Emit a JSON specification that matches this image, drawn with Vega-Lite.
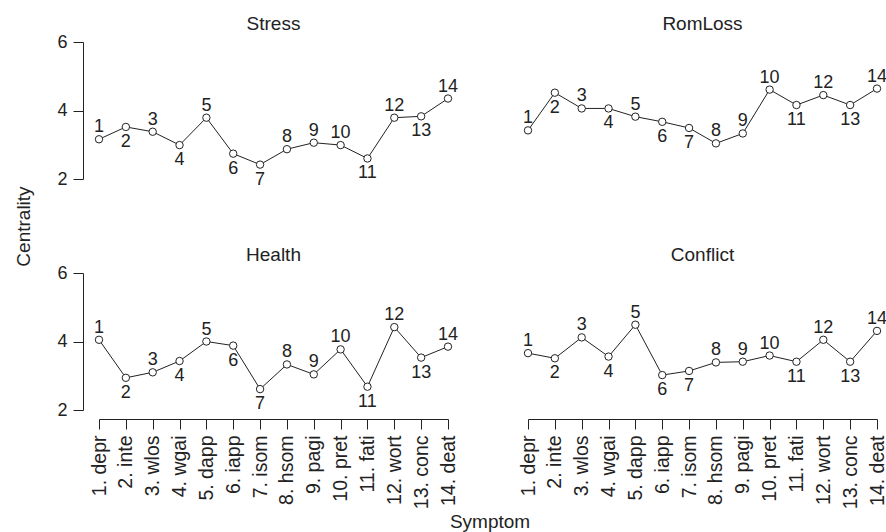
{
  "$schema": "https://vega.github.io/schema/vega-lite/v6.json",
  "background": "white",
  "padding": {"left": 14, "top": 15, "right": 0, "bottom": 2},
  "title": {"text": "Centrality", "orient": "left", "anchor": "middle", "font": "Liberation Sans", "fontSize": 19, "fontWeight": "normal", "color": "#222", "offset": 23, "dx": 47},
  "data": {"values": [
    {"panel":"Stress","num":1,"symptom":"1. depr","value":3.16},
    {"panel":"Stress","num":2,"symptom":"2. inte","value":3.52},
    {"panel":"Stress","num":3,"symptom":"3. wlos","value":3.38},
    {"panel":"Stress","num":4,"symptom":"4. wgai","value":2.99},
    {"panel":"Stress","num":5,"symptom":"5. dapp","value":3.79},
    {"panel":"Stress","num":6,"symptom":"6. iapp","value":2.74},
    {"panel":"Stress","num":7,"symptom":"7. isom","value":2.42},
    {"panel":"Stress","num":8,"symptom":"8. hsom","value":2.87},
    {"panel":"Stress","num":9,"symptom":"9. pagi","value":3.06},
    {"panel":"Stress","num":10,"symptom":"10. pret","value":2.99},
    {"panel":"Stress","num":11,"symptom":"11. fati","value":2.6},
    {"panel":"Stress","num":12,"symptom":"12. wort","value":3.79},
    {"panel":"Stress","num":13,"symptom":"13. conc","value":3.83},
    {"panel":"Stress","num":14,"symptom":"14. deat","value":4.35},
    {"panel":"RomLoss","num":1,"symptom":"1. depr","value":3.42},
    {"panel":"RomLoss","num":2,"symptom":"2. inte","value":4.52},
    {"panel":"RomLoss","num":3,"symptom":"3. wlos","value":4.06},
    {"panel":"RomLoss","num":4,"symptom":"4. wgai","value":4.06},
    {"panel":"RomLoss","num":5,"symptom":"5. dapp","value":3.82},
    {"panel":"RomLoss","num":6,"symptom":"6. iapp","value":3.67},
    {"panel":"RomLoss","num":7,"symptom":"7. isom","value":3.49},
    {"panel":"RomLoss","num":8,"symptom":"8. hsom","value":3.04},
    {"panel":"RomLoss","num":9,"symptom":"9. pagi","value":3.33},
    {"panel":"RomLoss","num":10,"symptom":"10. pret","value":4.61},
    {"panel":"RomLoss","num":11,"symptom":"11. fati","value":4.16},
    {"panel":"RomLoss","num":12,"symptom":"12. wort","value":4.45},
    {"panel":"RomLoss","num":13,"symptom":"13. conc","value":4.16},
    {"panel":"RomLoss","num":14,"symptom":"14. deat","value":4.64},
    {"panel":"Health","num":1,"symptom":"1. depr","value":4.05},
    {"panel":"Health","num":2,"symptom":"2. inte","value":2.94},
    {"panel":"Health","num":3,"symptom":"3. wlos","value":3.1},
    {"panel":"Health","num":4,"symptom":"4. wgai","value":3.43},
    {"panel":"Health","num":5,"symptom":"5. dapp","value":4.0},
    {"panel":"Health","num":6,"symptom":"6. iapp","value":3.88},
    {"panel":"Health","num":7,"symptom":"7. isom","value":2.61},
    {"panel":"Health","num":8,"symptom":"8. hsom","value":3.33},
    {"panel":"Health","num":9,"symptom":"9. pagi","value":3.04},
    {"panel":"Health","num":10,"symptom":"10. pret","value":3.77},
    {"panel":"Health","num":11,"symptom":"11. fati","value":2.68},
    {"panel":"Health","num":12,"symptom":"12. wort","value":4.42},
    {"panel":"Health","num":13,"symptom":"13. conc","value":3.53},
    {"panel":"Health","num":14,"symptom":"14. deat","value":3.85},
    {"panel":"Conflict","num":1,"symptom":"1. depr","value":3.66},
    {"panel":"Conflict","num":2,"symptom":"2. inte","value":3.51},
    {"panel":"Conflict","num":3,"symptom":"3. wlos","value":4.12},
    {"panel":"Conflict","num":4,"symptom":"4. wgai","value":3.56},
    {"panel":"Conflict","num":5,"symptom":"5. dapp","value":4.49},
    {"panel":"Conflict","num":6,"symptom":"6. iapp","value":3.02},
    {"panel":"Conflict","num":7,"symptom":"7. isom","value":3.14},
    {"panel":"Conflict","num":8,"symptom":"8. hsom","value":3.39},
    {"panel":"Conflict","num":9,"symptom":"9. pagi","value":3.41},
    {"panel":"Conflict","num":10,"symptom":"10. pret","value":3.59},
    {"panel":"Conflict","num":11,"symptom":"11. fati","value":3.41},
    {"panel":"Conflict","num":12,"symptom":"12. wort","value":4.05},
    {"panel":"Conflict","num":13,"symptom":"13. conc","value":3.41},
    {"panel":"Conflict","num":14,"symptom":"14. deat","value":4.31}
  ]},
  "facet": {
    "field": "panel", "type": "nominal",
    "sort": ["Stress", "RomLoss", "Health", "Conflict"],
    "header": {
      "title": "Symptom", "titleOrient": "bottom", "titleFont": "Liberation Sans", "titleFontSize": 19, "titleFontWeight": "normal", "titleColor": "#222", "titlePadding": 4,
      "labelFont": "Liberation Sans", "labelFontSize": 19, "labelColor": "#222", "labelPadding": 8
    }
  },
  "columns": 2,
  "spacing": {"column": 63, "row": 57},
  "resolve": {"scale": {"x": "shared", "y": "shared"}},
  "spec": {
    "width": 349,
    "height": 137,
    "encoding": {
      "x": {
        "field": "symptom", "type": "ordinal",
        "sort": ["1. depr","2. inte","3. wlos","4. wgai","5. dapp","6. iapp","7. isom","8. hsom","9. pagi","10. pret","11. fati","12. wort","13. conc","14. deat"],
        "scale": {"type": "point", "padding": 0},
        "axis": {"title": null, "labelAngle": 270, "offset": 5, "tickSize": 10, "labelPadding": 6, "labelFont": "Liberation Sans", "labelFontSize": 19.5, "labelColor": "#222", "domainColor": "#222", "tickColor": "#222"}
      },
      "y": {
        "field": "value", "type": "quantitative",
        "scale": {"domain": [2, 6], "nice": false, "zero": false},
        "axis": {"title": null, "values": [2, 4, 6], "offset": 10, "tickSize": 10, "labelPadding": 6, "grid": false, "labelFont": "Liberation Sans", "labelFontSize": 18, "labelColor": "#222", "domainColor": "#222", "tickColor": "#222"}
      }
    },
    "layer": [
      {"mark": {"type": "line", "color": "#222", "strokeWidth": 1}},
      {"mark": {"type": "point", "shape": "circle", "filled": true, "fill": "white", "stroke": "#222", "strokeWidth": 1, "size": 55, "opacity": 1}},
      {
        "transform": [{"filter": {"not": {"field": "num", "oneOf": [2, 4, 6, 7, 11, 13]}}}],
        "mark": {"type": "text", "baseline": "alphabetic", "dy": -7, "font": "Liberation Sans", "fontSize": 18, "color": "#222"},
        "encoding": {"text": {"field": "num", "type": "nominal"}}
      },
      {
        "transform": [{"filter": {"field": "num", "oneOf": [2, 4, 6, 7, 11, 13]}}],
        "mark": {"type": "text", "baseline": "top", "dy": 6, "font": "Liberation Sans", "fontSize": 18, "color": "#222"},
        "encoding": {"text": {"field": "num", "type": "nominal"}}
      }
    ]
  },
  "config": {"view": {"stroke": null}, "axis": {"domainWidth": 1, "tickWidth": 1}}
}
